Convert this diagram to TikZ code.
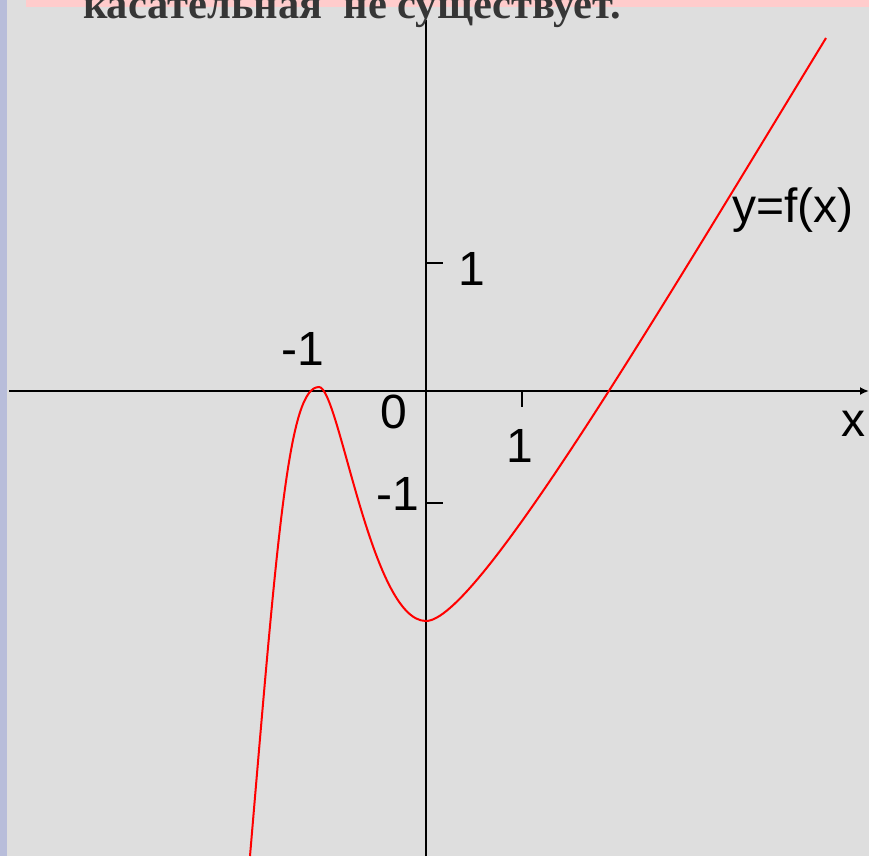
\documentclass[tikz,border=0pt]{standalone}
\usepackage{fontspec}
\setmainfont{Liberation Sans}
\newfontfamily\headfont{Liberation Serif}
\usetikzlibrary{arrows.meta}
\definecolor{panel}{HTML}{DEDEDE}
\definecolor{sidebar}{HTML}{B8BDDA}
\definecolor{pinkbar}{HTML}{FFCCCC}
\definecolor{headgray}{HTML}{363636}

\begin{document}
\begin{tikzpicture}[x=1pt,y=-1pt,every node/.style={inner sep=0pt,outer sep=0pt},lbl/.style={anchor=base,font=\fontsize{48}{50}\selectfont},axis/.style={line width=2.2pt,black},tick/.style={line width=1.6pt,black},graph/.style={line width=2pt,red}]
\useasboundingbox (0,0) rectangle (869,856);
\clip (0,0) rectangle (869,856);
\fill[panel] (0,0) rectangle (869,856);
\fill[sidebar] (0,0) rectangle (7,856);
\fill[pinkbar] (26,0) rectangle (869,7);
\coordinate (xl) at (9,391);\coordinate (xr) at (869,391);
\coordinate (yb) at (426,856);\coordinate (yt) at (426,20);
\draw[axis,-{Latex[length=9pt,width=8pt]}] (xl)--(xr);\draw[axis] (yb)--(yt);
\draw[tick] (426,263)--(443,263);\draw[tick] (426,503)--(443,503);\draw[tick] (522,391)--(522,407);
\node[anchor=base west,font=\headfont\bfseries\fontsize{42.5}{44}\selectfont,text=headgray] (head) at (83,19) {касательная\ \ не существует.};
\coordinate (lo) at (250,856);\coordinate (top) at (319,387);\coordinate (bot) at (426,621);\coordinate (hi) at (826,38);
\draw[graph] (lo) .. controls (278,526) and (289,387) .. (top) .. controls (339,387) and (371,621) .. (bot) .. controls (476,621) and (654,320) .. (hi);
\node[lbl] (yone) at (472,285) {1};
\node[lbl] (xmone) at (303,365) {-1};
\node[lbl] (zero) at (394,428) {0};
\node[lbl] (xone) at (520,462) {1};
\node[lbl] (ymone) at (398,510) {-1};
\node[lbl] (xlab) at (853,436) {x};
\node[lbl] (flab) at (793,222) {y=f(x)};
\end{tikzpicture}
\end{document}
